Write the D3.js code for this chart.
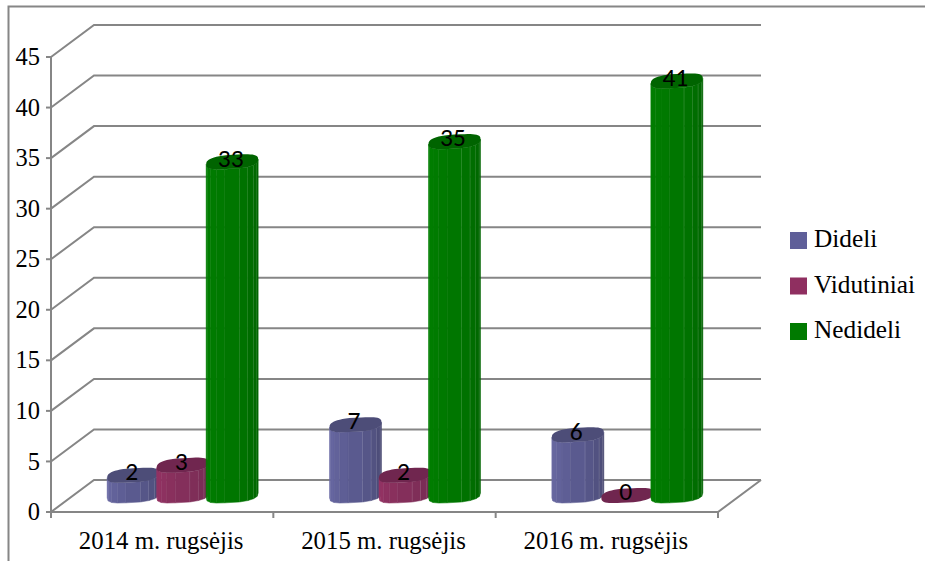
<!DOCTYPE html>
<html><head><meta charset="utf-8">
<script src="https://cdn.jsdelivr.net/npm/d3@7/dist/d3.min.js"></script>
<style>html,body{margin:0;padding:0;background:#fff}svg{display:block}</style></head>
<body><div id="c"></div>
<script>
const categories = ["2014 m. rugsėjis","2015 m. rugsėjis","2016 m. rugsėjis"];
const seriesNames = ["Dideli","Vidutiniai","Nedideli"];
const didVals = [2,7,6];
const vidVals = [3,2,0];
const nedVals = [33,35,41];
const seriesValues = [didVals,vidVals,nedVals];
const yTicks = [0,5,10,15,20,25,30,35,40,45];
const palette = [
  {side:["#6c6ca6","#5c5c92","#48486f"],top:"#4d4d78",sw:"#5f5f99"},
  {side:["#993366","#86305c","#6f2a4f"],top:"#70264f",sw:"#8f2f60"},
  {side:["#008000","#007800","#006200"],top:"#006400",sw:"#007a00"}
];
const W=925,H=561,gray="#868686",ink="#000";
const dx=43,dy=-32;
const svg=d3.select("#c").append("svg").attr("width",W).attr("height",H);
const y=d3.scaleLinear().domain([0,45]).range([512,57]);
const x=d3.scaleBand().domain(categories).range([51,718]);
const sOff=d3.scalePoint().domain(seriesNames).range([-49.5,49.5]);
const barH=d3.scaleLinear().domain([0,45]).range([0,455]);
const serif="'Liberation Serif','Times New Roman',serif";

svg.append("path").attr("d",`M8.5 561V6.5H${W}`).attr("fill","none").attr("stroke",gray).attr("stroke-width",2);

const grid=svg.append("g").attr("fill","none").attr("stroke",gray).attr("stroke-width",2);
yTicks.forEach(t=>{
  const p=d3.path();
  p.moveTo(51,y(t));p.lineTo(51+dx,y(t)+dy);p.lineTo(718+dx,y(t)+dy);
  grid.append("path").attr("d",p.toString());
});
grid.append("path").attr("d",`M51 ${y(45)}V${y(0)}H718L${718+dx} ${y(0)+dy}`);
yTicks.forEach(t=>{
  grid.append("line").attr("x1",46).attr("x2",51).attr("y1",y(t)).attr("y2",y(t));
  svg.append("text").attr("x",40).attr("y",y(t)).attr("dy","0.33em").attr("text-anchor","end")
    .attr("font-family",serif).attr("font-size",24.5).attr("fill",ink).text(t);
});
x.domain().concat(["end"]).forEach((c,i)=>{
  const px=51+i*x.bandwidth();
  grid.append("line").attr("x1",px).attr("x2",px).attr("y1",512).attr("y2",518);
});
categories.forEach(c=>{
  svg.append("text").attr("x",x(c)+x.bandwidth()/2-1).attr("y",549).attr("text-anchor","middle")
    .attr("font-family",serif).attr("font-size",24.8).attr("fill",ink).text(c);
});

const a=26,b=7,sk=2.5,ex=0.72;
const baseLeftY=498;
const sp=v=>Math.sign(v)*Math.pow(Math.abs(v),ex);
function pt(cx,cy,t){const c=sp(Math.cos(t)),s=sp(Math.sin(t));return [cx+a*c,cy+b*s-sk*Math.cos(t)];}
const N=9;
const tScale=d3.scaleLinear().domain([0,N]).range([Math.PI,0]);
const bars=svg.append("g");
seriesNames.forEach((s,si)=>{
  categories.forEach((c,ci)=>{
    const v=seriesValues[si][ci];
    const cx=x(c)+x.bandwidth()/2+20.5+sOff(s);
    const cyB=baseLeftY-sk;
    const cyT=cyB-barH(v);
    const col=d3.scaleLinear().domain([0,N*0.45,N]).range(palette[si].side);
    const g=bars.append("g");
    if(v>0){
      for(let i=0;i<N;i++){
        const A=pt(cx,cyT,tScale(i)),B=pt(cx,cyT,tScale(i+1)),C=pt(cx,cyB,tScale(i+1)),D=pt(cx,cyB,tScale(i));
        g.append("polygon").attr("points",[A,B,C,D].map(q=>q.join(",")).join(" "))
          .attr("fill",col(i+0.5)).attr("stroke",col(i+0.5)).attr("stroke-width",0.5);
        if(i>=4&&i<N-1){
          g.append("line").attr("x1",B[0]).attr("y1",B[1]).attr("x2",C[0]).attr("y2",C[1])
            .attr("stroke","#fff").attr("stroke-opacity",0.3).attr("stroke-width",1);
        }
      }
    }
    const top=d3.range(0,48).map(k=>pt(cx,cyT,k/48*2*Math.PI));
    g.append("polygon").attr("points",top.map(q=>q.join(",")).join(" ")).attr("fill",palette[si].top);
  });
});
const labels=svg.append("g");
seriesNames.forEach((s,si)=>{
  categories.forEach((c,ci)=>{
    const v=seriesValues[si][ci];
    const cx=x(c)+x.bandwidth()/2+20.5+sOff(s);
    const cyT=baseLeftY-sk-barH(v);
    labels.append("text").attr("x",cx-1.5).attr("y",cyT-4.5).attr("dy","0.36em").attr("text-anchor","middle")
      .attr("font-family","Carlito,Lato,'Open Sans',sans-serif").attr("font-size",25.5).attr("fill",ink).text(v);
  });
});
const ly=d3.scalePoint().domain(seriesNames).range([239,330]);
seriesNames.forEach((s,si)=>{
  svg.append("rect").attr("x",790).attr("y",ly(s)-7).attr("width",17).attr("height",17).attr("fill",palette[si].sw);
  svg.append("text").attr("x",814).attr("y",ly(s)).attr("dy","0.33em").attr("font-family",serif).attr("font-size",25.3).attr("fill",ink).text(s);
});
</script></body></html>
